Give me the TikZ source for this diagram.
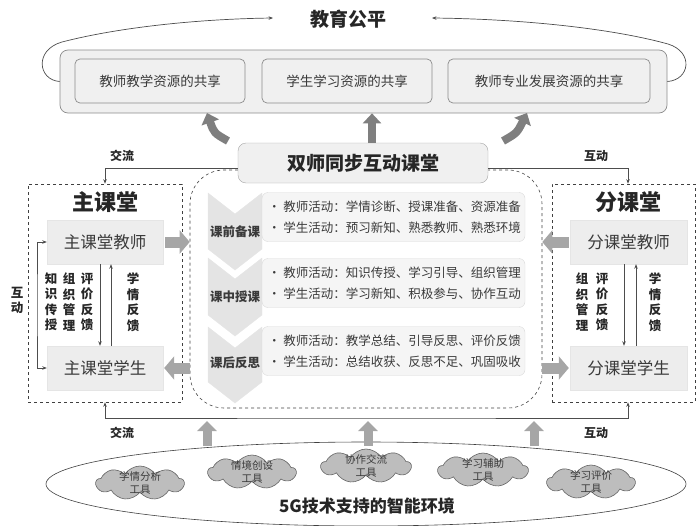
\documentclass[tikz,border=0pt]{standalone}
\usepackage{fontspec}
\setmainfont{Noto Sans CJK SC}
\usetikzlibrary{arrows.meta,shapes.symbols,shapes.geometric,calc}
\newcommand\fsz[2]{\fontsize{#1}{#2}\selectfont}
\definecolor{ink}{HTML}{262626}
\definecolor{ink2}{HTML}{3A3A3A}
\definecolor{ln}{HTML}{4D4D4D}
\definecolor{boxfill}{HTML}{F0F0F0}
\definecolor{boxline}{HTML}{8C8C8C}
\definecolor{darkarrow}{HTML}{7F7F7F}
\definecolor{lightarrow}{HTML}{A6A6A6}
\definecolor{roomfill}{HTML}{EDEDED}
\definecolor{chevfill}{HTML}{E4E4E4}
\definecolor{panelfill}{HTML}{F5F5F5}
\definecolor{cloudfill}{HTML}{BDBDBD}
\begin{document}
\begin{tikzpicture}[x=1pt,y=-1pt,
  every node/.style={text=ink},
  bigbox/.style={draw=boxline,fill=boxfill,rounded corners=8pt,line width=0.7pt,inner sep=0pt},
  resbox/.style={draw=boxline,fill=boxfill,rounded corners=5pt,line width=0.7pt,inner sep=0pt,minimum height=44,font=\fsz{13.5}{16},text=ink2},
  room/.style={draw=black!75,dashed,line width=0.6pt,inner sep=0pt},
  person/.style={fill=roomfill,draw=black!10,inner sep=0pt,minimum width=116,minimum height=44,font=\fsz{16.5}{19},text=ink2},
  roomtitle/.style={font=\fsz{22}{24}\bfseries},
  vlab/.style={font=\fsz{12.5}{15.5}\bfseries,align=center,inner sep=0pt},
  lab/.style={font=\fsz{12}{14}\bfseries,inner sep=0pt},
  thin/.style={draw=ln,line width=0.7pt,-{Stealth[length=4.5pt,width=3.5pt]}},
  sidearrow/.style={draw=lightarrow,line width=11pt,-{Triangle[length=10pt,width=23pt]}},
  toparrow/.style={draw=darkarrow,line width=8pt,-{Triangle[length=10pt,width=18pt]}},
  botarrow/.style={draw=lightarrow,line width=9pt,-{Triangle[length=10pt,width=19pt]}},
  chevlab/.style={font=\fsz{12.5}{15}\bfseries,inner sep=0pt,text=ink2},
  panel/.style={fill=panelfill,draw=black!15,rounded corners=6pt,inner sep=0pt,minimum width=263,minimum height=49},
  paneltext/.style={font=\fsz{12.5}{21.5},align=left,inner sep=0pt,text=ink2},
  cloudsty/.style={cloud,cloud puffs=9,cloud puff arc=115,cloud ignores aspect,fill=cloudfill,draw=black!60,line width=0.6pt,minimum width=88,minimum height=34,inner sep=0pt},
  cloudtext/.style={font=\fsz{10.5}{13},align=center,inner sep=0pt,text=ink2}
]
\useasboundingbox (0,0) rectangle (696,525);

% ---------- top ----------
\node[font=\fsz{19}{22}\bfseries,inner sep=0pt] (title) at (348,19) {教育公平};
\node[bigbox,minimum width=607,minimum height=63] (big) at (363.5,81.5) {};
\node[resbox,minimum width=170] (r1) at (160,81) {教师教学资源的共享};
\node[resbox,minimum width=170] (r2) at (347,81) {学生学习资源的共享};
\node[resbox,minimum width=202] (r3) at (549,81) {教师专业发展资源的共享};
\coordinate (tL) at (273,18);
\coordinate (tR) at (432,18);
\draw[ln,line width=0.7pt,-{Stealth[length=4.5pt,width=3.5pt]}] (big.west) .. controls (38,80) and (34,50) .. (62,42) .. controls (120,27) and (200,19) .. (tL);
\draw[ln,line width=0.7pt,-{Stealth[length=4.5pt,width=3.5pt]}] (big.east) .. controls (690,80) and (694,52) .. (668,44) .. controls (610,28) and (520,19) .. (tR);

% ---------- centre ----------
\node[draw=black!75,dashed,line width=0.6pt,rounded corners=34pt,minimum width=352,minimum height=238,inner sep=0pt] (center) at (366,289) {};
\node[fill=boxfill,draw=black!35,rounded corners=8pt,minimum width=250,minimum height=40,inner sep=0pt,font=\fsz{19}{22}\bfseries] (ss) at (363,163) {双师同步互动课堂};

% up arrows to resources
\coordinate (a1t) at (228,141);
\coordinate (a1h) at (207,113);
\coordinate (a3t) at (503,141);
\coordinate (a3h) at (527,113);
\draw[toparrow] (a1t) .. controls (214,133) .. (a1h);
\draw[toparrow] ([xshift=9pt]ss.north) -- ([xshift=9pt]ss.north |- big.south);
\draw[toparrow] (a3t) .. controls (517,133) .. (a3h);

% chevrons
\foreach \t/\p in {193/270, 258/336, 327/403}{
  \fill[chevfill,draw=black!10] (208,\t) -- (235,\t+21) -- (262,\t) -- (262,\p-21) -- (235,\p) -- (208,\p-21) -- cycle;
}
\node[chevlab] (k1) at (235,232) {课前备课};
\node[chevlab] (k2) at (235,297) {课中授课};
\node[chevlab] (k3) at (235,363) {课后反思};

\node[panel] (p1) at (393.5,217) {};
\node[panel] (p2) at (393.5,283) {};
\node[panel] (p3) at (393.5,351) {};
\node[paneltext,anchor=west] at ([xshift=6pt]p1.west) {• 教师活动：学情诊断、授课准备、资源准备\\• 学生活动：预习新知、熟悉教师、熟悉环境};
\node[paneltext,anchor=west] at ([xshift=6pt]p2.west) {• 教师活动：知识传授、学习引导、组织管理\\• 学生活动：学习新知、积极参与、协作互动};
\node[paneltext,anchor=west] at ([xshift=6pt]p3.west) {• 教师活动：教学总结、引导反思、评价反馈\\• 学生活动：总结收获、反思不足、巩固吸收};

% ---------- main classroom ----------
\node[room,minimum width=154,minimum height=218] (zkt) at (105,293) {};
\node[roomtitle] at (105,202) {主课堂};
\node[person] (zjs) at (105,242) {主课堂教师};
\node[person] (zxs) at (105,368) {主课堂学生};
\draw[thin] ([xshift=-5pt]zjs.south) -- ([xshift=-5pt]zxs.north);
\draw[thin] ([xshift=6pt]zxs.north) -- ([xshift=6pt]zjs.south);
\node[vlab] at (51,302) {知\\识\\传\\授};
\node[vlab] at (69,302) {组\\织\\管\\理};
\node[vlab] at (87,302) {评\\价\\反\\馈};
\node[vlab] at (133,302) {学\\情\\反\\馈};
\coordinate (zl) at (37,305);
\draw[draw=ln,line width=0.7pt,{Stealth[length=4.5pt,width=3.5pt]}-{Stealth[length=4.5pt,width=3.5pt]}] (zjs.west) -| (zl) |- (zxs.west);
\node[vlab,font=\fsz{12.5}{15}\bfseries] at (17,300) {互\\动};

% ---------- branch classroom ----------
\node[room,minimum width=143,minimum height=218] (fkt) at (623.5,293) {};
\node[roomtitle] at (628,202) {分课堂};
\node[person,minimum width=117] (fjs) at (628.5,242) {分课堂教师};
\node[person,minimum width=117] (fxs) at (628.5,368) {分课堂学生};
\draw[thin] ([xshift=-4.5pt]fjs.south) -- ([xshift=-4.5pt]fxs.north);
\draw[thin] ([xshift=7.5pt]fxs.north) -- ([xshift=7.5pt]fjs.south);
\node[vlab] at (582,302) {组\\织\\管\\理};
\node[vlab] at (602,302) {评\\价\\反\\馈};
\node[vlab] at (655,302) {学\\情\\反\\馈};

% side gray arrows
\draw[sidearrow] ([xshift=2pt]zjs.east) -- (zjs.east -| center.west);
\draw[sidearrow] (zxs.east -| center.west) -- ([xshift=1pt]zxs.east);
\draw[sidearrow] ([xshift=-1pt]fjs.west) -- (fjs.west -| center.east);
\draw[sidearrow] (fxs.west -| center.east) -- ([xshift=-1pt]fxs.west);

% top connectors
\coordinate (ssl) at (ss.west |- 0,168);
\coordinate (ssr) at (ss.east |- 0,168);
\draw[thin] (ssl) -| (zkt.north);
\draw[thin] (ssr) -| ([xshift=4.5pt]fkt.north);
\node[lab] at (122,156) {交流};
\node[lab] at (596,156) {互动};

% bottom connector
\coordinate (bl) at (366,418);
\draw[draw=ln,line width=0.7pt,{Stealth[length=4.5pt,width=3.5pt]}-{Stealth[length=4.5pt,width=3.5pt]}] (zkt.south) |- (bl) -| ([xshift=4.5pt]fkt.south);
\node[lab] at (122,433) {交流};
\node[lab] at (596,433) {互动};

% ---------- environment ----------
\node[draw=black!75,line width=0.6pt,ellipse,minimum width=640,minimum height=84,inner sep=0pt] (env) at (366,484) {};
\coordinate (e1) at (207,446);
\coordinate (e2) at (368,446);
\coordinate (e3) at (534,446);
\draw[botarrow] (e1) -- (e1 |- 0,421);
\draw[botarrow] (e2) -- (e2 |- 0,421);
\draw[botarrow] (e3) -- (e3 |- 0,421);

\node[cloudsty] (c1) at (140,483) {};
\node[cloudsty] (c2) at (252,472) {};
\node[cloudsty,minimum width=90] (c3) at (366,466) {};
\node[cloudsty,minimum width=90] (c4) at (483,470) {};
\node[cloudsty] (c5) at (591,482) {};
\node[cloudtext] at (c1) {学情分析\\工具};
\node[cloudtext] at (c2) {情境创设\\工具};
\node[cloudtext] at (c3) {协作交流\\工具};
\node[cloudtext] at (c4) {学习辅助\\工具};
\node[cloudtext] at (c5) {学习评价\\工具};
\node[font=\fsz{17}{20}\bfseries,inner sep=0pt] (envt) at (367,506) {5G技术支持的智能环境};
\end{tikzpicture}
\end{document}
